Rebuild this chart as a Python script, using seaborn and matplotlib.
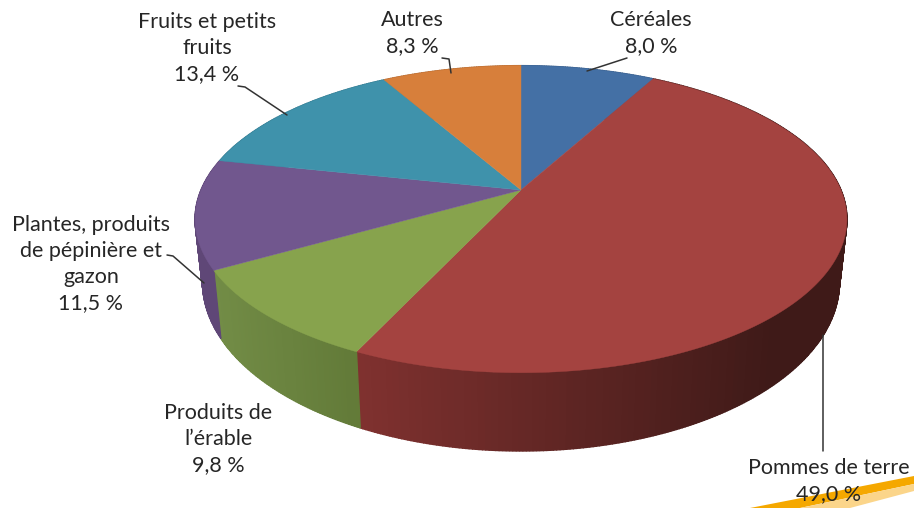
import numpy as np
import matplotlib
matplotlib.use('Agg')
import matplotlib.pyplot as plt
import seaborn as sns

names = ['Céréales', 'Pommes de terre', "Produits de\nl’érable",
         'Plantes, produits\nde pépinière et\ngazon', 'Fruits et petits\nfruits', 'Autres']
values = [8.0, 49.0, 9.8, 11.5, 13.4, 8.3]
colors = ['#4470a5', '#a44340', '#87a34d', '#71578e', '#3f92ab', '#d77f3b']
# side wall shades, left to right
wall_left = ['#3a5f8c', '#7f312f', '#728c46', '#5f4777', '#357c91', '#b56b32']
wall_right = ['#3a5f8c', '#3f1a18', '#627a38', '#5f4777', '#357c91', '#b56b32']

sns.set_style('white')
plt.rcParams['font.family'] = ['Lato', 'DejaVu Sans']

fig, ax = plt.subplots(figsize=(9.14, 5.08), dpi=100)
fig.subplots_adjust(0, 0, 1, 1)

wedges, _ = ax.pie(values, startangle=90, counterclock=False)
angles = [(w.theta1, w.theta2) for w in wedges]
for w in wedges:
    w.remove()
ax.set_aspect('auto')
ax.set_xlim(0, 914)
ax.set_ylim(508, 0)
ax.axis('off')

# perspective projection of the disc, apex at (521, 190)
def top_pts(phi):
    a = np.radians(phi)
    w = 1 + 0.19 * np.sin(a)
    return 521 + 320 * np.cos(a) / w, 190 - 148 * np.sin(a) / w

def bottom_pts(phi):
    x, y = top_pts(phi)
    return 521 + 0.977 * (x - 521), y + 60 + 0.1 * (y - 190)

# side walls
for (t1, t2), left, right in zip(angles, wall_left, wall_right):
    steps = np.linspace(t1, t2, int((t2 - t1) * 2) + 2)
    xt, yt = top_pts(steps)
    xb, yb = bottom_pts(steps)
    shades = sns.blend_palette([left, right], 60)
    x0, x1 = xt.min(), min(xt.max(), 770)
    for i in range(len(steps) - 1):
        pos = np.clip((xt[i] - x0) / (x1 - x0), 0, 1)
        c = shades[int(pos * 59)]
        ax.fill([xt[i], xt[i + 1], xb[i + 1], xb[i]], [yt[i], yt[i + 1], yb[i + 1], yb[i]],
                facecolor=c, edgecolor=c, lw=1.0, zorder=1)

# top face
for (t1, t2), c in zip(angles, colors):
    phi = np.linspace(t1, t2, 200)
    x, y = top_pts(phi)
    ax.fill(np.r_[521, x], np.r_[190, y], color=c, lw=0.3, zorder=2)

# corner decoration
ax.fill([750, 914, 914, 800], [508, 476, 484, 508], color='#f5a800', lw=0, zorder=3)
ax.fill([800, 914, 914, 850], [508, 484, 491, 508], color='#fbd58a', lw=0, zorder=3)

# leader lines
leaders = [([587, 627], [71, 58]),
           ([451, 449, 442], [73, 59, 58]),
           ([287, 245, 238], [115, 87, 86]),
           ([204, 173, 167], [283, 256, 255]),
           ([823, 823], [335, 451])]
for lx, ly in leaders:
    ax.plot(lx, ly, color='#333333', lw=1.1, zorder=4)

label_pos = [(651, 33), (829, 481), (218, 439), (91, 264), (207, 48), (412, 33)]
for name, v, (lx, ly) in zip(names, values, label_pos):
    txt = name + '\n' + f'{v:.1f}'.replace('.', ',') + ' %'
    ax.text(lx, ly, txt, ha='center', va='center', fontsize=15.5, color='#262626',
            linespacing=1.38, zorder=5)

fig.savefig('out.png', dpi=100)
